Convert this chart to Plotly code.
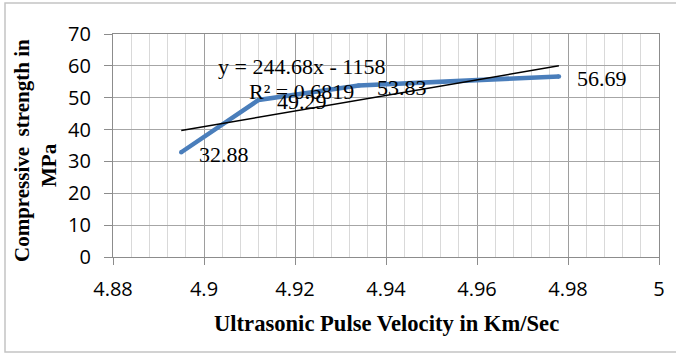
import plotly.graph_objects as go

# Ultrasonic pulse velocity (km/s) vs compressive strength (MPa)
velocity = [4.895, 4.912, 4.934, 4.978]
strength = [32.88, 49.29, 53.83, 56.69]

# Linear trendline coefficients and fit quality
slope = 244.68
intercept = -1158
r_squared = 0.6819

x_ticks = [4.88, 4.90, 4.92, 4.94, 4.96, 4.98, 5.00]
x_tick_text = ["4.88", "4.9", "4.92", "4.94", "4.96", "4.98", "5"]
y_ticks = [0, 10, 20, 30, 40, 50, 60, 70]

W, H = 676, 354
L, R, T, B = 113, 17, 34, 97
pw, ph = W - L - R, H - T - B

serif = "Liberation Serif, Times New Roman, serif"
sans = "Open Sans, Liberation Sans, Arial, sans-serif"

fig = go.Figure()

# Measured strength series
fig.add_trace(go.Scatter(
    x=velocity, y=strength, mode="lines+markers",
    line=dict(color="#4A7EBB", width=4.5),
    marker=dict(color="#4A7EBB", size=4.5, line=dict(width=0)),
    showlegend=False, hoverinfo="skip",
))

# Linear trendline across the data range
tx = [min(velocity), max(velocity)]
ty = [slope * v + intercept for v in tx]
fig.add_trace(go.Scatter(
    x=tx, y=ty, mode="lines",
    line=dict(color="#000000", width=1.5),
    showlegend=False, hoverinfo="skip",
))

annotations = []
# Value labels to the right of each point
for xv, yv in zip(velocity, strength):
    annotations.append(dict(
        x=xv, y=yv, xref="x", yref="y", text=f"{yv:.2f}",
        showarrow=False, xanchor="left", yanchor="middle",
        xshift=16, yshift=-2,
        font=dict(family=serif, size=22, color="#000000"),
    ))

# Trendline equation and R²
eq_x = 4.9215
annotations.append(dict(
    x=eq_x, y=59.9, xref="x", yref="y",
    text=f"y = {slope}x - {abs(intercept)}",
    showarrow=False, xanchor="center", yanchor="middle",
    font=dict(family=serif, size=22, color="#000000"),
))
annotations.append(dict(
    x=eq_x, y=52.0, xref="x", yref="y",
    text=f"R² = {r_squared}",
    showarrow=False, xanchor="center", yanchor="middle",
    font=dict(family=serif, size=22, color="#000000"),
))

# Axis titles
annotations.append(dict(
    x=(386 - L) / pw, y=(H - 323 - B) / ph, xref="paper", yref="paper",
    text="<b>Ultrasonic Pulse Velocity in Km/Sec</b>",
    showarrow=False, xanchor="center", yanchor="middle",
    font=dict(family=serif, size=22.6, color="#000000"),
))
annotations.append(dict(
    x=(22 - L) / pw, y=(H - 151 - B) / ph, xref="paper", yref="paper",
    text="<b>Compressive  strength in</b>", textangle=-90,
    showarrow=False, xanchor="center", yanchor="middle",
    font=dict(family=serif, size=21, color="#000000"),
))
annotations.append(dict(
    x=(49 - L) / pw, y=(H - 165 - B) / ph, xref="paper", yref="paper",
    text="<b>MPa</b>", textangle=-90,
    showarrow=False, xanchor="center", yanchor="middle",
    font=dict(family=serif, size=21, color="#000000"),
))

# Chart frame
shapes = [dict(
    type="rect", xref="paper", yref="paper",
    x0=(5 - L) / pw, x1=(682 - L) / pw,
    y0=(H - 352 - B) / ph, y1=(H - 3 - B) / ph,
    line=dict(color="#C4C4C4", width=1.5), layer="below",
)]

fig.update_layout(
    width=W, height=H,
    margin=dict(l=L, r=R, t=T, b=B, pad=0),
    paper_bgcolor="white", plot_bgcolor="white",
    annotations=annotations, shapes=shapes,
    xaxis=dict(
        range=[4.88, 5.0], tickvals=x_ticks, ticktext=x_tick_text,
        showgrid=True, gridcolor="#9E9E9E", gridwidth=1.3,
        minor=dict(dtick=0.004, tick0=4.88, showgrid=True,
                   gridcolor="#D9D9D9", gridwidth=1.3, ticks=""),
        showline=True, linecolor="#8C8C8C", linewidth=1.3, mirror=True,
        ticks="outside", ticklen=7, tickcolor="#8C8C8C", tickwidth=1.3,
        ticklabelstandoff=7,
        tickfont=dict(family=sans, size=20, color="#000000"),
        zeroline=False, fixedrange=True,
    ),
    yaxis=dict(
        range=[0, 70], tickvals=y_ticks,
        showgrid=True, gridcolor="#A6A6A6", gridwidth=1.3,
        showline=True, linecolor="#8C8C8C", linewidth=1.3, mirror=True,
        ticks="outside", ticklen=8, tickcolor="#8C8C8C", tickwidth=1.3,
        ticklabelstandoff=9,
        tickfont=dict(family=sans, size=20, color="#000000"),
        zeroline=False, fixedrange=True,
    ),
)

fig.write_html("out.html")
